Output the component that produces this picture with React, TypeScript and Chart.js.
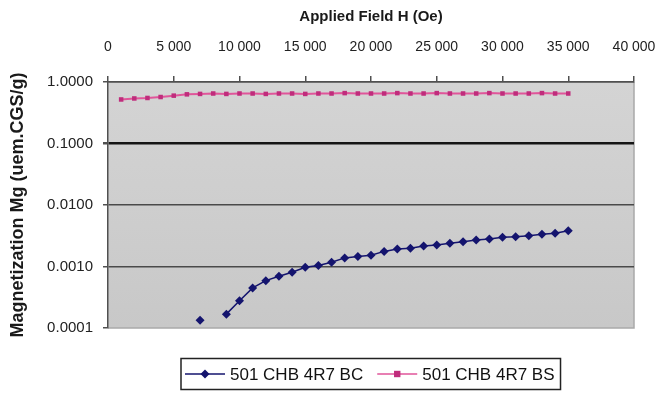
import React, { useEffect, useRef } from "react";
import { Chart, registerables } from "chart.js";

Chart.register(...registerables);

const FONT = "'Liberation Sans', Arial, Helvetica, sans-serif";

const xTitleText = "Applied Field H (Oe)";
const yTitleText = "Magnetization Mg (uem.CGS/g)";
const seriesBCName = "501 CHB 4R7 BC";
const seriesBSName = "501 CHB 4R7 BS";

const fieldBC = [
  7000, 8000, 9000, 10000, 11000, 12000, 13000, 14000, 15000, 16000, 17000, 18000, 19000, 20000, 21000,
  22000, 23000, 24000, 25000, 26000, 27000, 28000, 29000, 30000, 31000, 32000, 33000, 34000, 35000,
];
const magBC = [
  0.000134, null, 0.000168, 0.000277, 0.000448, 0.000589, 0.000693, 0.000807, 0.000975, 0.00104, 0.00117,
  0.00138, 0.00146, 0.00153, 0.00176, 0.00193, 0.00198, 0.00215, 0.00224, 0.00238, 0.00253, 0.0027, 0.0028,
  0.00299, 0.00305, 0.00317, 0.00334, 0.00347, 0.00382,
];

const fieldBS = [
  1000, 2000, 3000, 4000, 5000, 6000, 7000, 8000, 9000, 10000, 11000, 12000, 13000, 14000, 15000, 16000,
  17000, 18000, 19000, 20000, 21000, 22000, 23000, 24000, 25000, 26000, 27000, 28000, 29000, 30000, 31000,
  32000, 33000, 34000, 35000,
];
const magBS = [
  0.52, 0.54, 0.55, 0.57, 0.6, 0.63, 0.64, 0.65, 0.64, 0.65, 0.65, 0.64, 0.65, 0.65, 0.64, 0.65, 0.65,
  0.66, 0.65, 0.65, 0.65, 0.66, 0.65, 0.65, 0.66, 0.65, 0.65, 0.65, 0.66, 0.65, 0.65, 0.65, 0.66, 0.65,
  0.65,
];

const xTickValues = [0, 5000, 10000, 15000, 20000, 25000, 30000, 35000, 40000];
const yTickValues = [0.0001, 0.001, 0.01, 0.1, 1];

const BC_COLOR = "#14146e";
const BS_LINE = "#e0559a";
const BS_POINT = "#c02c7c";

function fmtThousands(v: number): string {
  return String(Math.round(v)).replace(/\B(?=(\d{3})+(?!\d))/g, " ");
}

const plotBackground = {
  id: "plotBackground",
  beforeDraw(chart: any) {
    const { ctx, chartArea } = chart;
    const { left, top, right, bottom } = chartArea;
    ctx.save();
    ctx.fillStyle = "#ffffff";
    ctx.fillRect(0, 0, chart.width, chart.height);
    const g = ctx.createLinearGradient(0, top, 0, bottom);
    g.addColorStop(0, "#d4d4d4");
    g.addColorStop(1, "#c8c8c8");
    ctx.fillStyle = g;
    ctx.fillRect(left, top, right - left, bottom - top);
    ctx.strokeStyle = "#a9a9a9";
    ctx.lineWidth = 1.5;
    ctx.beginPath();
    ctx.moveTo(right, top);
    ctx.lineTo(right, bottom);
    ctx.lineTo(left, bottom);
    ctx.stroke();
    ctx.restore();
  },
};

const boxedLegend = {
  id: "boxedLegend",
  afterDraw(chart: any) {
    const { ctx, chartArea } = chart;
    const items = chart.data.datasets.map((ds: any) => ({
      text: ds.label,
      line: ds.borderColor,
      point: ds.pointBackgroundColor,
      style: ds.pointStyle,
      r: ds.pointRadius,
    }));
    ctx.save();
    ctx.font = `17px ${FONT}`;
    const lineLen = 40;
    const gap = 5;
    const between = 14;
    const padL = 4;
    const padR = 6;
    let total = padL + padR;
    items.forEach((it: any, i: number) => {
      it.w = ctx.measureText(it.text).width;
      total += lineLen + gap + it.w + (i > 0 ? between : 0);
    });
    const cx = (chartArea.left + chartArea.right) / 2;
    const cy = 374;
    const boxH = 31;
    const x0 = Math.round(cx - total / 2);
    ctx.fillStyle = "#ffffff";
    ctx.fillRect(x0, cy - boxH / 2, total, boxH);
    ctx.strokeStyle = "#222222";
    ctx.lineWidth = 1.5;
    ctx.strokeRect(x0, cy - boxH / 2, total, boxH);
    let x = x0 + padL;
    items.forEach((it: any, i: number) => {
      if (i > 0) x += between;
      ctx.strokeStyle = it.line;
      ctx.lineWidth = 1.5;
      ctx.beginPath();
      ctx.moveTo(x, cy);
      ctx.lineTo(x + lineLen, cy);
      ctx.stroke();
      const mx = x + lineLen / 2;
      ctx.fillStyle = it.point;
      ctx.beginPath();
      if (it.style === "rectRot") {
        ctx.moveTo(mx, cy - it.r);
        ctx.lineTo(mx + it.r, cy);
        ctx.lineTo(mx, cy + it.r);
        ctx.lineTo(mx - it.r, cy);
        ctx.closePath();
      } else {
        ctx.rect(mx - it.r, cy - it.r, it.r * 2, it.r * 2);
      }
      ctx.fill();
      x += lineLen + gap;
      ctx.fillStyle = "#111111";
      ctx.textBaseline = "middle";
      ctx.textAlign = "left";
      ctx.fillText(it.text, x, cy + 1);
      x += it.w;
    });
    ctx.restore();
  },
};

export default function App() {
  const canvasRef = useRef<HTMLCanvasElement | null>(null);

  useEffect(() => {
    const canvas = canvasRef.current;
    if (!canvas) return;
    const bcData = fieldBC.map((x, i) => ({ x, y: magBC[i] }));
    const bsData = fieldBS.map((x, i) => ({ x, y: magBS[i] }));

    const chart = new Chart(canvas, {
      type: "scatter",
      data: {
        datasets: [
          {
            label: seriesBCName,
            data: bcData as any,
            showLine: true,
            spanGaps: false,
            borderColor: BC_COLOR,
            borderWidth: 1.5,
            pointStyle: "rectRot",
            pointRadius: 4.5,
            pointBackgroundColor: BC_COLOR,
            pointBorderColor: BC_COLOR,
            pointBorderWidth: 0,
          },
          {
            label: seriesBSName,
            data: bsData as any,
            showLine: true,
            borderColor: BS_LINE,
            borderWidth: 2,
            pointStyle: "rect",
            pointRadius: 3.2,
            pointBackgroundColor: BS_POINT,
            pointBorderColor: BS_POINT,
            pointBorderWidth: 0,
          },
        ],
      },
      options: {
        responsive: false,
        animation: false,
        devicePixelRatio: 1,
        layout: { padding: { left: 0, right: 30, top: 0, bottom: 65 } },
        plugins: {
          legend: { display: false },
          tooltip: { enabled: false },
        },
        scales: {
          x: {
            type: "linear",
            position: "top",
            min: 0,
            max: 40000,
            afterBuildTicks: (scale: any) => {
              scale.ticks = xTickValues.map((value) => ({ value }));
            },
            afterFit: (scale: any) => {
              scale.height = 82;
              scale.paddingLeft = 0;
              scale.paddingRight = 0;
            },
            ticks: {
              font: { family: FONT, size: 14 },
              color: "#222222",
              padding: 20,
              maxRotation: 0,
              autoSkip: false,
              callback: (v: any) => fmtThousands(Number(v)),
            },
            grid: {
              drawOnChartArea: false,
              drawTicks: true,
              tickLength: 6,
              color: "#505050",
              lineWidth: 1.5,
            },
            border: { display: true, color: "#505050", width: 1.5 },
            title: {
              display: true,
              text: xTitleText,
              font: { family: FONT, size: 15, weight: "bold" },
              color: "#1a1a1a",
              padding: { top: 8, bottom: 0 },
            },
          },
          y: {
            type: "logarithmic",
            position: "left",
            min: 0.0001,
            max: 1,
            afterBuildTicks: (scale: any) => {
              scale.ticks = yTickValues.map((value) => ({ value }));
            },
            afterFit: (scale: any) => {
              scale.width = 108;
              scale.paddingTop = 0;
              scale.paddingBottom = 0;
            },
            ticks: {
              font: { family: FONT, size: 15 },
              color: "#222222",
              padding: 10,
              autoSkip: false,
              callback: (v: any) => Number(v).toFixed(4),
            },
            grid: {
              drawOnChartArea: true,
              drawTicks: true,
              tickLength: 5,
              tickColor: "#505050",
              color: (ctx: any) => {
                const v = ctx.tick ? ctx.tick.value : 0;
                if (Math.abs(v - 0.1) < 1e-9) return "#151515";
                if (Math.abs(v - 0.0001) < 1e-12) return "rgba(0,0,0,0)";
                return "#4a4a4a";
              },
              lineWidth: (ctx: any) => {
                const v = ctx.tick ? ctx.tick.value : 0;
                if (Math.abs(v - 0.1) < 1e-9) return 2.5;
                return 1.5;
              },
            },
            border: { display: true, color: "#505050", width: 1.5 },
            title: {
              display: true,
              text: yTitleText,
              font: { family: FONT, size: 18, weight: "bold" },
              color: "#1a1a1a",
              padding: { top: 7, bottom: 0 },
            },
          },
        },
      },
      plugins: [plotBackground, boxedLegend],
    } as any);

    return () => {
      chart.destroy();
    };
  }, []);

  return (
    <div style={{ position: "absolute", left: 0, top: 0, width: 664, height: 393, background: "#ffffff" }}>
      <canvas ref={canvasRef} width={664} height={393} style={{ display: "block", width: 664, height: 393 }} />
    </div>
  );
}
